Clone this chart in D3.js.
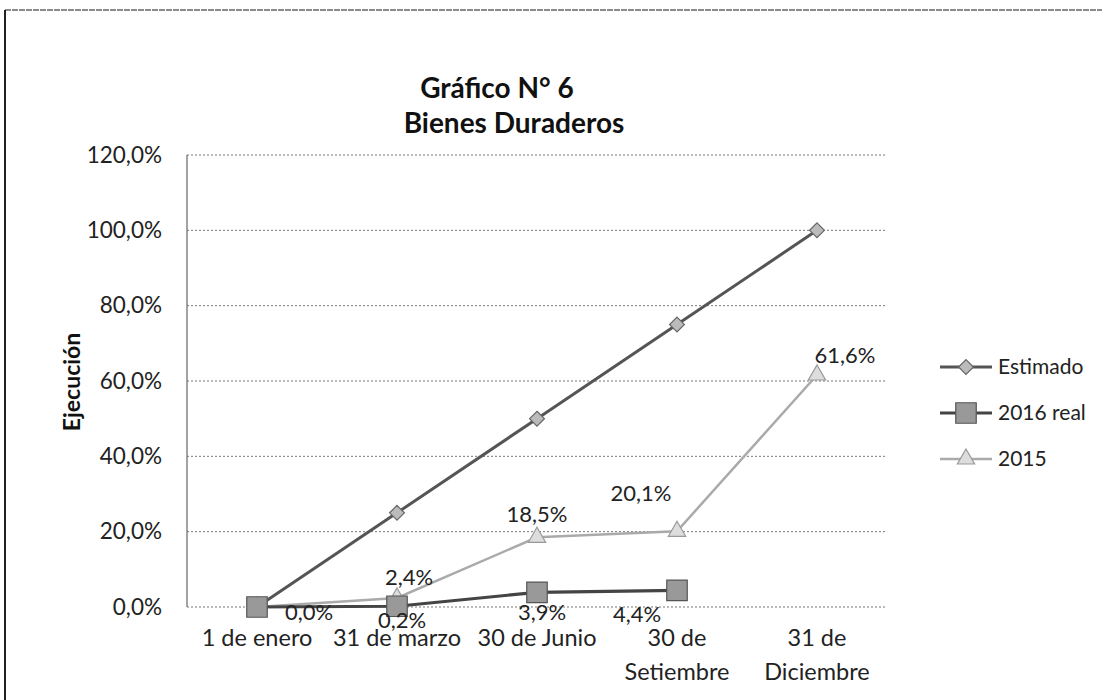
<!DOCTYPE html>
<html><head><meta charset="utf-8">
<script src="https://cdn.jsdelivr.net/npm/d3@7"></script>
<style>body{margin:0;background:#fff}text{font-family:Lato,"Open Sans",sans-serif}</style>
</head><body><svg id="c" width="1102" height="700"></svg>
<script>
const categories = [["1 de enero"],["31 de marzo"],["30 de Junio"],["30 de","Setiembre"],["31 de","Diciembre"]];
const estimado = [0, 25, 50, 75, 100];
const real2016 = [0, 0.2, 3.9, 4.4];
const y2015 = [0, 2.4, 18.5, 20.1, 61.6];
const yTicks = [0, 20, 40, 60, 80, 100, 120];
const seriesNames = ["Estimado", "2016 real", "2015"];

const svg = d3.select("#c");
const fmt = v => d3.format(".1f")(v).replace(".", ",") + "%";

// frame
svg.append("line").attr("x1",5).attr("y1",10).attr("x2",1102).attr("y2",10).attr("stroke","#666").attr("stroke-width",1.5).attr("stroke-dasharray","6,1");
svg.append("line").attr("x1",5).attr("y1",10).attr("x2",5).attr("y2",700).attr("stroke","#222").attr("stroke-width",2);

const x = d3.scaleBand().domain(d3.range(categories.length)).range([187, 887]);
const xc = i => x(i) + x.bandwidth()/2;
const y = d3.scaleLinear().domain([0,120]).range([607,155]);

// gridlines
svg.append("g").selectAll("line").data(yTicks).join("line")
  .attr("x1",187).attr("x2",887).attr("y1",d=>y(d)).attr("y2",d=>y(d))
  .attr("stroke","#777").attr("stroke-width",1).attr("stroke-dasharray","2,2");
svg.append("line").attr("x1",187).attr("x2",187).attr("y1",y(120)).attr("y2",y(0)).attr("stroke","#666").attr("stroke-width",1.2);

// y axis labels
const ya = svg.append("g").attr("transform","translate(187,0)").call(d3.axisLeft(y).tickValues(yTicks).tickFormat(fmt).tickSize(0).tickPadding(25));
ya.select(".domain").remove();
ya.selectAll("text").attr("font-size",22.5).attr("fill","#222").attr("font-family","Lato");

// x axis labels
const xg = svg.append("g");
categories.forEach((c,i)=>{
  const t = xg.append("text").attr("x",xc(i)).attr("y",646).attr("text-anchor","middle").attr("font-size",23.5).attr("fill","#222");
  c.forEach((s,j)=>t.append("tspan").attr("x",xc(i)).attr("dy",j?34:0).text(s));
});

// titles
svg.append("text").attr("x",497).attr("y",98).attr("text-anchor","middle").attr("font-size",28).attr("font-weight","bold").attr("fill","#111").text("Gráfico N° 6");
svg.append("text").attr("x",514).attr("y",133).attr("text-anchor","middle").attr("font-size",28).attr("font-weight","bold").attr("fill","#111").text("Bienes Duraderos");
svg.append("text").attr("transform","translate(80,382) rotate(-90)").attr("text-anchor","middle").attr("font-size",23).attr("font-weight","bold").attr("fill","#111").text("Ejecución");

const line = d3.line().x((d,i)=>xc(i)).y(d=>y(d));
const styles = [
  {data:estimado, stroke:"#555", w:3, sym:d3.symbolDiamond2, size:140, fill:"#bbb", ms:"#666"},
  {data:real2016, stroke:"#444", w:3.2, sym:d3.symbolSquare, size:420, fill:"#999", ms:"#555"},
  {data:y2015, stroke:"#aaa", w:2.5, sym:d3.symbolTriangle, size:130, fill:"#ddd", ms:"#999"}
];
// draw in order: 2015, estimado, 2016 on top
[2,0,1].forEach(k=>{
  const s = styles[k];
  svg.append("path").datum(s.data).attr("d",line).attr("fill","none").attr("stroke",s.stroke).attr("stroke-width",s.w);
  svg.append("g").selectAll("path").data(s.data).join("path")
    .attr("transform",(d,i)=>`translate(${xc(i)},${y(d)})`)
    .attr("d",d3.symbol(s.sym,s.size)).attr("fill",s.fill).attr("stroke",s.ms).attr("stroke-width",1.2);
});

// data labels
const lab2015 = [null,[12,-21],[0,-23],[-36,-38],[28,-20]];
const lab2016 = [[52,5],[5,14],[5,20],[-40,24]];
function labels(data, offs){
  data.forEach((v,i)=>{
    if(!offs[i]) return;
    svg.append("text").attr("x",xc(i)+offs[i][0]).attr("y",y(v)+offs[i][1]).attr("dy","0.35em")
      .attr("text-anchor","middle").attr("font-size",22).attr("fill","#222").text(fmt(v));
  });
}
labels(y2015, lab2015);
labels(real2016, lab2016);

// legend
const lg = svg.append("g");
[0,1,2].forEach((k,j)=>{
  const s = styles[k], ly = 367 + j*46;
  lg.append("line").attr("x1",940).attr("x2",992).attr("y1",ly).attr("y2",ly).attr("stroke",s.stroke).attr("stroke-width",s.w);
  lg.append("path").attr("transform",`translate(966,${ly})`).attr("d",d3.symbol(s.sym,s.size)).attr("fill",s.fill).attr("stroke",s.ms).attr("stroke-width",1.2);
  lg.append("text").attr("x",998).attr("y",ly).attr("dy","0.35em").attr("font-size",21).attr("fill","#222").text(seriesNames[k]);
});
</script></body></html>
